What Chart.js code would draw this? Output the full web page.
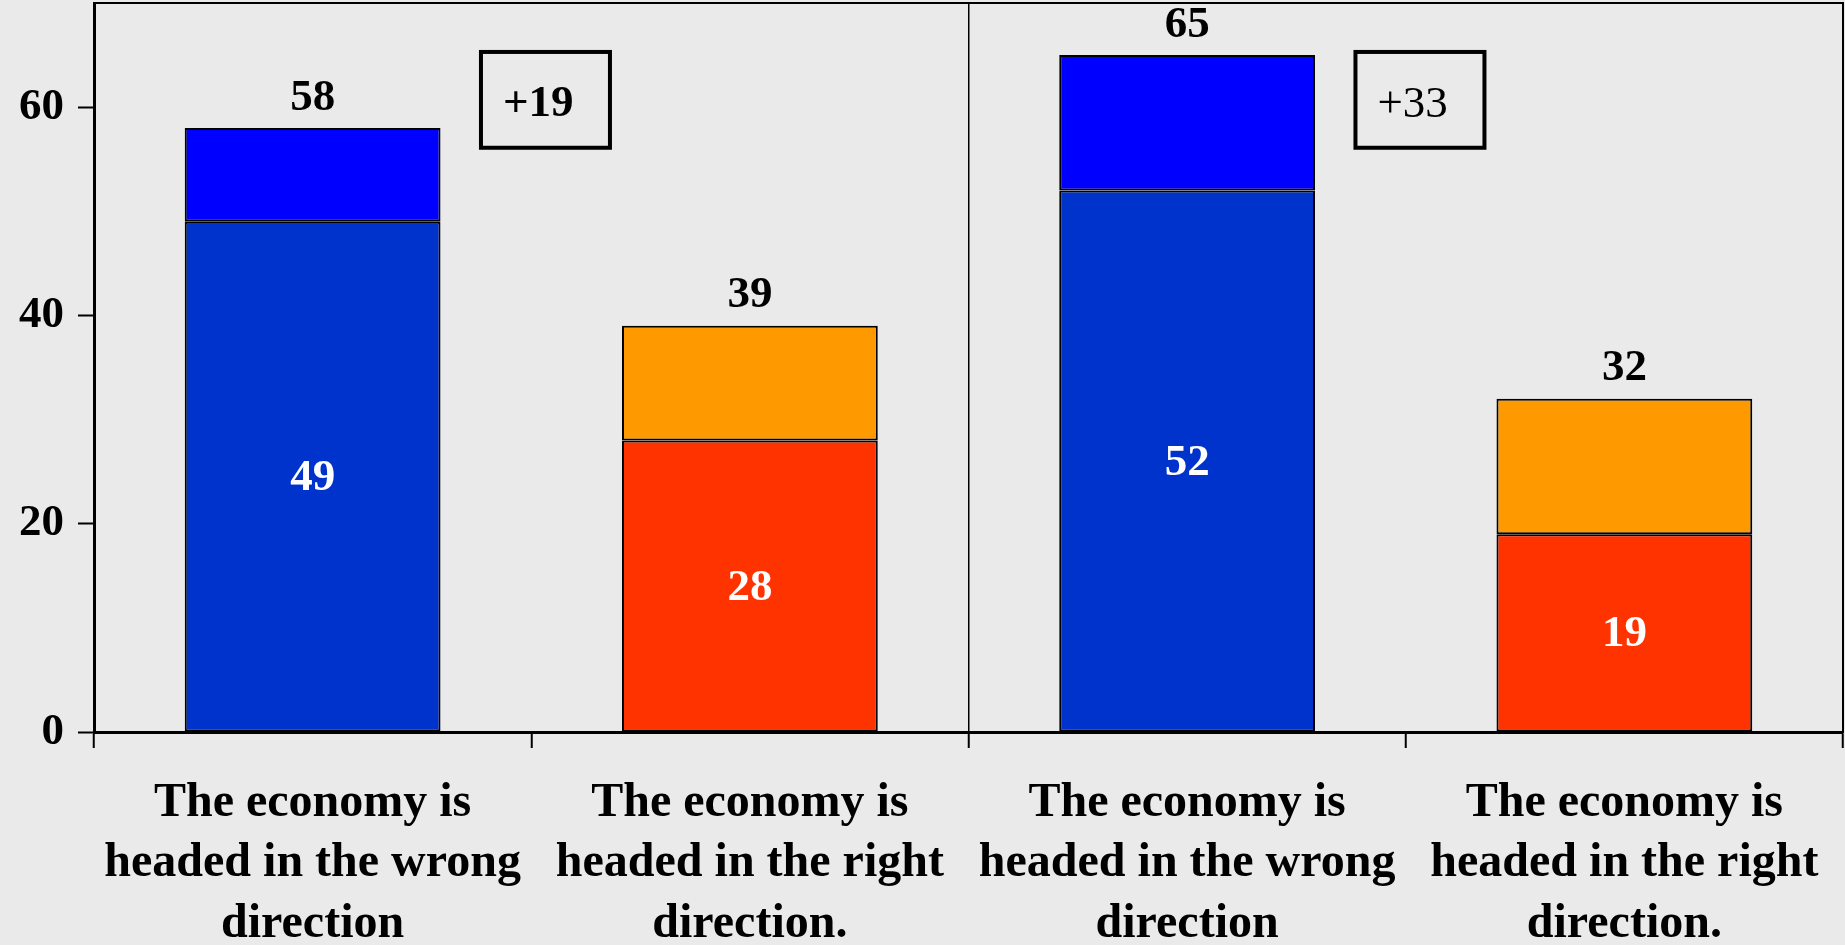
<!DOCTYPE html>
<html>
<head>
<meta charset="utf-8">
<script src="https://cdn.jsdelivr.net/npm/chart.js@4.4.0/dist/chart.umd.min.js"></script>
<style>
  html, body { margin: 0; padding: 0; background: #eaeaea; }
  canvas { display: block; }
</style>
</head>
<body>
<canvas id="economyChart" width="1845" height="945"></canvas>
<script>
var categories = [
  ['The economy is', 'headed in the wrong', 'direction'],
  ['The economy is', 'headed in the right', 'direction.'],
  ['The economy is', 'headed in the wrong', 'direction'],
  ['The economy is', 'headed in the right', 'direction.']
];
var baseValues = [49, 28, 52, 19];
var totalValues = [58, 39, 65, 32];
var yTicks = [0, 20, 40, 60];

var baseColors = ['#0033cc', '#ff3300', '#0033cc', '#ff3300'];
var topColors = ['#0000ff', '#ff9900', '#0000ff', '#ff9900'];

// upper segment is whatever sits on top of the labelled base
var topValues = totalValues.map(function(t, i) { return t - baseValues[i]; });

var serif = '"Liberation Serif", "Times New Roman", serif';

// value labels, panel outline and the "+n" gap boxes
var overlayPlugin = {
  id: 'overlay',
  afterDatasetsDraw: function(chart) {
    var ctx = chart.ctx;
    var area = chart.chartArea;
    var xs = chart.scales.x;
    var ys = chart.scales.y;
    var base = chart.getDatasetMeta(0).data;
    var top = chart.getDatasetMeta(1).data;

    ctx.save();
    ctx.textAlign = 'center';
    ctx.textBaseline = 'middle';
    ctx.font = 'bold 45px ' + serif;
    for (var i = 0; i < base.length; i++) {
      ctx.fillStyle = '#ffffff';
      ctx.fillText(baseValues[i], base[i].x, (base[i].y + base[i].base) / 2 + 2);
      ctx.fillStyle = '#000000';
      ctx.fillText(totalValues[i], top[i].x, top[i].y - 30);
    }

    ctx.strokeStyle = '#000000';
    ctx.lineWidth = 2;
    ctx.strokeRect(area.left, area.top, area.right - area.left, area.bottom - area.top);

    // one box per panel: wrong minus right
    var opts = chart.options.plugins.overlay;
    ctx.lineWidth = 4;
    ctx.textAlign = 'left';
    for (var p = 0; p < categories.length; p += 2) {
      var gap = totalValues[p] - totalValues[p + 1];
      var x1 = xs.getPixelForValue(p + opts.boxX[0]);
      var x2 = xs.getPixelForValue(p + opts.boxX[1]);
      var y1 = ys.getPixelForValue(opts.boxY[1]);
      var y2 = ys.getPixelForValue(opts.boxY[0]);
      ctx.strokeRect(x1, y1, x2 - x1, y2 - y1);
      ctx.font = opts.boxWeight[p / 2] + ' 45px ' + serif;
      ctx.fillText('+' + gap, x1 + 22, (y1 + y2) / 2 + 5);
    }
    ctx.restore();
  }
};

function noEdgePadding(scale) {
  scale.paddingTop = 0;
  scale.paddingBottom = 0;
  scale.paddingLeft = 0;
  scale.paddingRight = 0;
}

var ctx = document.getElementById('economyChart');
var economyChart = new Chart(ctx, {
  type: 'bar',
  data: {
    labels: categories,
    datasets: [{
      data: baseValues,
      backgroundColor: baseColors,
      borderColor: '#000000',
      borderWidth: 2,
      borderSkipped: false,
      categoryPercentage: 1,
      barPercentage: 0.585
    }, {
      data: topValues,
      backgroundColor: topColors,
      borderColor: '#000000',
      borderWidth: 2,
      borderSkipped: false,
      categoryPercentage: 1,
      barPercentage: 0.585
    }]
  },
  options: {
    responsive: false,
    animation: false,
    layout: { padding: { top: 3, right: 2, left: 0, bottom: 0 } },
    plugins: {
      legend: { display: false },
      tooltip: { enabled: false },
      overlay: { boxX: [0.385, 0.68], boxY: [56.1, 65.3], boxWeight: ['bold', 'normal'] }
    },
    scales: {
      x: {
        stacked: true,
        afterFit: function(scale) {
          scale.height = 213;
          noEdgePadding(scale);
        },
        grid: {
          offset: true,
          color: function(c) { return c.index === 2 ? '#000000' : 'rgba(0,0,0,0)'; },
          lineWidth: 1.5,
          tickLength: 16,
          tickColor: '#000000',
          tickWidth: 2
        },
        border: { color: '#000000', width: 3 },
        ticks: {
          color: '#000000',
          font: { family: serif, size: 48, weight: 'bold', lineHeight: 1.26 },
          padding: 25,
          maxRotation: 0,
          autoSkip: false
        }
      },
      y: {
        stacked: true,
        min: 0,
        max: 70,
        afterFit: function(scale) {
          scale.width = 94;
          noEdgePadding(scale);
        },
        afterBuildTicks: function(scale) {
          scale.ticks = yTicks.map(function(v) { return { value: v }; });
        },
        grid: {
          drawOnChartArea: false,
          tickLength: 16,
          tickColor: '#000000',
          tickWidth: 2
        },
        border: { color: '#000000', width: 3 },
        ticks: {
          color: '#000000',
          font: { family: serif, size: 45, weight: 'bold' },
          padding: 14
        }
      }
    }
  },
  plugins: [overlayPlugin]
});
</script>
</body>
</html>
